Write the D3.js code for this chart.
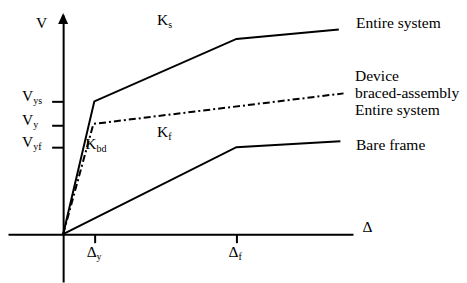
<!DOCTYPE html>
<html>
<head>
<meta charset="utf-8">
<script src="https://cdn.jsdelivr.net/npm/d3@7"></script>
<style>
  body { margin: 0; background: #fff; }
  text { font-family: "Liberation Serif", "Times New Roman", serif; fill: #000; }
</style>
</head>
<body>
<div id="chart"></div>
<script>
// V - Δ curves (arbitrary units)
const entireSystem = [[0, 0], [0.99, 10], [5.5, 14.7], [8.75, 15.4]];
const bracedAssembly = [[0, 0], [0.96, 8.3], [8.9, 10.6]];
const bareFrame = [[0, 0], [5.5, 6.55], [8.8, 7.0]];

const vTicks = [10, 8.2, 6.55];
const vTickNames = ["ys", "y", "yf"];
const dTicks = [1, 5.5];
const dTickNames = ["y", "f"];

const W = 467, H = 283;

const svg = d3.select("#chart").append("svg")
  .attr("width", W)
  .attr("height", H);

const x = d3.scaleLinear().domain([-1.75, 9.2]).range([8, 353]);
const y = d3.scaleLinear().domain([-3.6, 16.5]).range([282, 15]);

// axes
svg.append("g")
  .attr("transform", `translate(0,${y(0)})`)
  .call(d3.axisBottom(x).tickValues(dTicks).tickSizeInner(9).tickSizeOuter(0).tickFormat(""))
  .call(g => g.select(".domain").attr("stroke-width", 2))
  .call(g => g.selectAll(".tick line").attr("stroke-width", 2));

svg.append("g")
  .attr("transform", `translate(${x(0)},0)`)
  .call(d3.axisLeft(y).tickValues(vTicks).tickSizeInner(11).tickSizeOuter(0).tickFormat(""))
  .call(g => g.select(".domain").attr("stroke-width", 2))
  .call(g => g.selectAll(".tick line").attr("stroke-width", 2));

// arrow head on V axis
const arrowX = x(0), arrowY = y(16.5);
svg.append("path")
  .attr("d", `M${arrowX},${arrowY - 2} L${arrowX - 5},${arrowY + 9} L${arrowX + 5},${arrowY + 9} Z`)
  .attr("fill", "#000");

const line = d3.line().x(d => x(d[0])).y(d => y(d[1]));

svg.append("path").datum(entireSystem)
  .attr("d", line).attr("fill", "none").attr("stroke", "#000").attr("stroke-width", 2);
svg.append("path").datum(bareFrame)
  .attr("d", line).attr("fill", "none").attr("stroke", "#000").attr("stroke-width", 2);
svg.append("path").datum(bracedAssembly)
  .attr("d", line).attr("fill", "none").attr("stroke", "#000").attr("stroke-width", 2)
  .attr("stroke-dasharray", "7,3,2,3");

// label with subscript
const label = (px, py, main, sub, anchor) => {
  const t = svg.append("text")
    .attr("x", px).attr("y", py)
    .attr("font-size", 15.5)
    .attr("text-anchor", anchor || "start");
  t.append("tspan").text(main);
  if (sub) t.append("tspan").attr("font-size", 10).attr("dy", 3).text(sub);
  return t;
};

label(x(-0.86), y(15.5), "V");
label(x(9.5), y(0) - 2, "Δ");

vTicks.forEach((v, i) => label(22, y(v), "V", vTickNames[i]));
dTicks.forEach((v, i) => label(x(v) - 8, y(0) + 23, "Δ", dTickNames[i]));

label(x(2.98), y(15.74), "K", "s");
label(x(2.98), y(7.3), "K", "f");
label(x(0.7), y(6.4), "K", "bd");

// curve names on the right
const legendX = 356;
label(legendX, 28, "Entire system");
label(legendX - 1, 81, "Device");
label(legendX - 1, 98, "braced-assembly");
label(legendX - 1, 115, "Entire system");
label(legendX, 150, "Bare frame");
</script>
</body>
</html>
